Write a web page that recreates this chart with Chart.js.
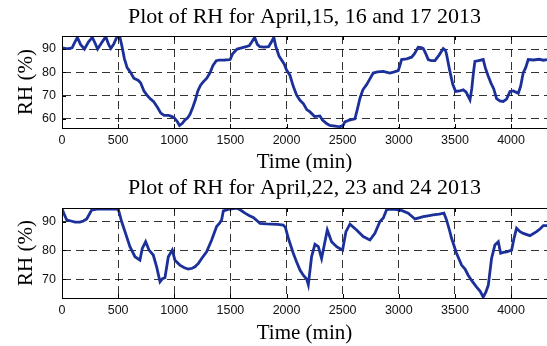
<!DOCTYPE html>
<html>
<head>
<meta charset="utf-8">
<script src="https://cdn.jsdelivr.net/npm/chart.js@4/dist/chart.umd.min.js"></script>
<style>
  html, body { margin: 0; padding: 0; background: #fff; }
  #wrap { position: relative; width: 547px; height: 346px; overflow: hidden; }
  canvas { display: block; }
</style>
</head>
<body>
<div id="wrap">
  <canvas id="c1" width="547" height="172"></canvas>
  <canvas id="c2" width="547" height="174"></canvas>
</div>
<script>
// ---- data ----
const title1 = "Plot of RH for April,15, 16 and 17 2013";
const title2 = "Plot of RH for April,22, 23 and 24 2013";
const xLabel = "Time (min)";
const yLabel = "RH (%)";
const xTicks = [0, 500, 1000, 1500, 2000, 2500, 3000, 3500, 4000];
const yTicks1 = [60, 70, 80, 90];
const yTicks2 = [70, 80, 90];

const time1 = [0,30,60,90,110,137,165,200,235,270,295,317,350,390,415,435,460,490,515,535,555,580,610,640,680,700,730,760,790,815,850,880,910,950,980,1000,1025,1047,1070,1094,1120,1140,1165,1187,1210,1234,1260,1290,1320,1345,1374,1400,1450,1498,1520,1560,1600,1640,1669,1690,1716,1740,1762,1800,1840,1865,1887,1905,1933,1960,1980,2000,2030,2060,2090,2120,2151,2180,2209,2250,2297,2320,2357,2385,2417,2450,2480,2505,2520,2560,2609,2630,2654,2680,2713,2740,2772,2810,2861,2921,2960,2995,3010,3025,3070,3114,3140,3173,3200,3218,3240,3262,3290,3322,3360,3396,3415,3426,3455,3480,3506,3540,3574,3600,3615,3634,3650,3665,3678,3710,3752,3770,3797,3820,3845,3871,3900,3930,3960,3990,4020,4064,4085,4108,4130,4153,4200,4250,4290,4320];
const rh1 = [90.5,90.3,90.2,90.5,92.5,95,92,90,93,95,92.5,90,92.5,95.3,92,90.3,92,95.3,95.3,91,86,82,80,77.5,76.5,75.5,72,70,68.5,67.5,65,62.5,61.5,61.5,61,60.5,59,57.2,58,59.5,60.5,62,65,68,72,74.5,76,77.5,80,83,85,85.2,85.3,85.5,88,90,90.5,91,91.5,93,95,92,91,90.8,91,93,95,91,87,85,83.5,81,78.8,74,70.2,68,66.5,64,63,61,61.3,59.5,58,57.2,57,56.8,56.7,57.3,58.7,59.5,60,64,68.9,72.5,74.7,77,79.7,80.2,80.4,79.7,80.2,80.7,83,85.5,85.8,86.5,88,90.8,90.6,90.2,88,85.5,85,85,87.5,90.2,89.5,87.6,80.4,75,71.8,72,72.5,71.5,70,68.2,73,80,84.7,85,85.5,82,78.3,75.5,73,68.7,67.7,67.5,68.5,71.8,72,71,74,79.7,82,85.5,85.3,85.6,85.2,85.5];

const time2 = [0,20,42,80,116,160,190,220,264,323,400,460,502,531,561,605,650,694,715,745,775,813,843,873,895,917,947,982,1006,1050,1090,1125,1160,1184,1215,1244,1288,1333,1377,1405,1422,1437,1481,1556,1590,1630,1670,1704,1764,1820,1868,1920,1971,1990,2016,2060,2090,2120,2149,2180,2194,2223,2253,2283,2312,2342,2363,2401,2446,2480,2499,2529,2565,2624,2683,2743,2787,2832,2862,2891,2940,2980,3030,3084,3110,3143,3180,3217,3260,3306,3360,3402,3425,3448,3470,3514,3559,3590,3618,3650,3693,3725,3752,3775,3797,3826,3856,3886,3907,3930,3960,4005,4025,4049,4080,4109,4168,4227,4260,4287,4320];
const rh2 = [94.4,92.5,90.6,90.2,89.8,89.8,90.2,90.9,94,94.4,94.3,94.4,94.2,90,86.5,81.3,77.8,76.6,80.7,83,80.1,78.4,74.3,69.1,70.2,70.5,77.8,80.1,76.6,74.9,74,73.5,73.8,74.3,75.5,77.2,79.5,83.6,88.3,89.5,90.6,93.7,94.2,94.7,94,92.9,92,91.4,89.4,89.2,89.1,89,88.8,88,84.2,79,76,73.2,71.4,70,68.1,77.8,82.1,81.3,77.2,83,87.1,83,81.3,80.5,80.1,86.5,89.1,87.1,84.8,83.6,85.9,90,91.2,94.1,94.3,94.1,93.8,92.9,92,90.9,91.3,91.7,92,92.3,92.6,92.9,90.6,87.5,84.2,79,74.9,73.5,71.4,69.5,67.3,65.8,63.8,65.5,67.9,77.2,81.9,83,79,79.3,79.5,80.1,84,87.7,86.5,85.9,85.1,86.5,87.5,88.6,88.6];

// ---- styling helpers ----
const LINE_COLOR = '#1c309a';
const SERIF = '"Liberation Serif", "Times New Roman", serif';
const SANS = '"Liberation Sans", Arial, sans-serif';

function decorations(titleText, titleY, xLabelY) {
  return {
    id: 'decor',
    afterDraw(chart) {
      const ctx = chart.ctx;
      const a = chart.chartArea;
      const xs = chart.scales.x, ys = chart.scales.y;
      ctx.save();
      ctx.strokeStyle = '#000';
      ctx.lineWidth = 1;
      ctx.setLineDash([]);
      // frame (left, top, bottom)
      ctx.beginPath();
      ctx.moveTo(a.left + 0.5, a.top + 0.5);
      ctx.lineTo(a.right, a.top + 0.5);
      ctx.moveTo(a.left + 0.5, a.top);
      ctx.lineTo(a.left + 0.5, a.bottom + 0.5);
      ctx.lineTo(a.right, a.bottom + 0.5);
      ctx.stroke();
      // inward tick marks
      ctx.beginPath();
      xs.ticks.forEach(t => {
        const px = Math.round(xs.getPixelForValue(t.value)) + 0.5;
        ctx.moveTo(px, a.bottom); ctx.lineTo(px, a.bottom - 4);
        ctx.moveTo(px, a.top); ctx.lineTo(px, a.top + 4);
      });
      ys.ticks.forEach(t => {
        const py = Math.round(ys.getPixelForValue(t.value)) + 0.5;
        ctx.moveTo(a.left, py); ctx.lineTo(a.left + 4, py);
      });
      ctx.stroke();
      // texts
      const cx = (a.left + a.right) / 2;
      ctx.fillStyle = '#000';
      ctx.textAlign = 'center';
      ctx.textBaseline = 'middle';
      ctx.font = '22px ' + SERIF;
      ctx.fillText(titleText, cx, titleY);
      ctx.font = '21px ' + SERIF;
      ctx.fillText(xLabel, cx, xLabelY);
      ctx.translate(26, (a.top + a.bottom) / 2);
      ctx.rotate(-Math.PI / 2);
      ctx.fillText(yLabel, 0, 0);
      ctx.restore();
    }
  };
}

function makeChart(id, times, values, yMin, yMax, yTicks, titleText, padTop, xAxisH, titleY, xLabelY) {
  const pts = times.map((t, i) => ({ x: t, y: values[i] }));
  return new Chart(document.getElementById(id), {
    type: 'line',
    data: {
      datasets: [{
        data: pts,
        borderColor: LINE_COLOR,
        borderWidth: 2.8,
        pointRadius: 0,
        tension: 0,
        fill: false
      }]
    },
    options: {
      responsive: false,
      animation: false,
      devicePixelRatio: 1,
      layout: { padding: { top: padTop, left: 0, right: 0, bottom: 0 } },
      plugins: { legend: { display: false }, title: { display: false }, tooltip: { enabled: false } },
      scales: {
        x: {
          type: 'linear',
          min: 0, max: 4320,
          afterBuildTicks: s => { s.ticks = xTicks.map(v => ({ value: v })); },
          afterFit: s => { s.height = xAxisH; },
          grid: { color: 'rgba(0,0,0,0.8)', lineWidth: 1, drawTicks: false },
          border: { display: true, color: '#000', dash: [8, 5] },
          ticks: { padding: 5, color: '#111', font: { family: SANS, size: 12.5 }, maxRotation: 0, autoSkip: false,
                   callback: v => String(v) }
        },
        y: {
          min: yMin, max: yMax,
          afterBuildTicks: s => { s.ticks = yTicks.map(v => ({ value: v })); },
          afterFit: s => { s.width = 62; },
          grid: { color: 'rgba(0,0,0,0.8)', lineWidth: 1, drawTicks: false },
          border: { display: true, color: '#000', dash: [8, 5] },
          ticks: { padding: 6, color: '#111', font: { family: SANS, size: 12.5 }, callback: v => String(v) }
        }
      }
    },
    plugins: [decorations(titleText, titleY, xLabelY)]
  });
}

makeChart('c1', time1, rh1, 56.1, 95.6, yTicks1, title1, 36, 44, 17, 162);
makeChart('c2', time2, rh2, 63.5, 94.7, yTicks2, title2, 36, 48, 16.5, 161);
</script>
</body>
</html>
